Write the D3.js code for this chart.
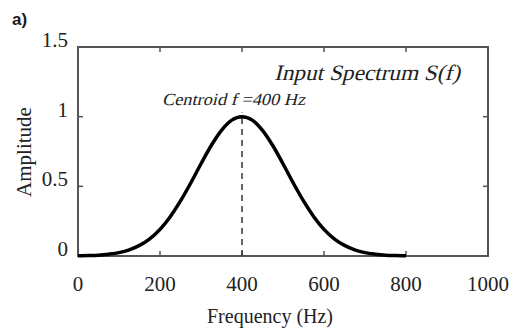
<!DOCTYPE html>
<html>
<head>
<meta charset="utf-8">
<script src="https://cdn.jsdelivr.net/npm/d3@7"></script>
<style>
  html, body { margin: 0; padding: 0; background: #fff; }
  svg { display: block; }
</style>
</head>
<body>
<svg id="chart" width="516" height="330"></svg>
<script>
// Data
const frequencies = [0, 25, 50, 75, 100, 125, 150, 175, 200, 225, 250, 275, 300, 325, 350, 375, 400,
                     425, 450, 475, 500, 525, 550, 575, 600, 625, 650, 675, 700, 725, 750, 775, 800];
const amplitudes  = [0.001, 0.003, 0.006, 0.013, 0.024, 0.044, 0.076, 0.123, 0.191, 0.282, 0.395, 0.524, 0.662, 0.793, 0.902, 0.975, 1.0,
                     0.975, 0.902, 0.793, 0.662, 0.524, 0.395, 0.282, 0.191, 0.123, 0.076, 0.044, 0.024, 0.013, 0.006, 0.003, 0.001];
const xTicks = [0, 200, 400, 600, 800, 1000];
const yTicks = [0, 0.5, 1, 1.5];
const yTickLabels = ["0", "0.5", "1", "1.5"];
const centroid = 400;
const panelLabel = "a)";
const xTitle = "Frequency (Hz)";
const yTitle = "Amplitude";
const seriesLabel = "Input Spectrum S(f)";
const centroidLabel = "Centroid f =400 Hz";

const svg = d3.select("#chart");
const L = 78, R = 488, T = 47, B = 256;
const x = d3.scaleLinear().domain([0, 1000]).range([L, R]);
const y = d3.scaleLinear().domain([0, 1.5]).range([B, T]);

const frameColor = "#555";
const textColor = "#222";
const serif = "'Liberation Serif', 'Times New Roman', serif";

// Frame
svg.append("rect")
  .attr("x", L).attr("y", T).attr("width", R - L).attr("height", B - T)
  .attr("fill", "none").attr("stroke", frameColor).attr("stroke-width", 2);

// Ticks (inside, all four sides)
const tickLen = 5;
const innerX = xTicks.filter(d => d > 0 && d < 1000);
const innerY = yTicks.filter(d => d > 0 && d < 1.5);
const tk = svg.append("g").attr("stroke", frameColor).attr("stroke-width", 1.5);
innerX.forEach(d => {
  tk.append("line").attr("x1", x(d)).attr("x2", x(d)).attr("y1", B).attr("y2", B - tickLen);
  tk.append("line").attr("x1", x(d)).attr("x2", x(d)).attr("y1", T).attr("y2", T + tickLen);
});
innerY.forEach(d => {
  tk.append("line").attr("x1", L).attr("x2", L + tickLen).attr("y1", y(d)).attr("y2", y(d));
  tk.append("line").attr("x1", R).attr("x2", R - tickLen).attr("y1", y(d)).attr("y2", y(d));
});

// Tick labels
svg.append("g").selectAll("text").data(xTicks).join("text")
  .attr("x", d => x(d)).attr("y", 291)
  .attr("text-anchor", "middle")
  .attr("font-family", serif).attr("font-size", 21).attr("fill", textColor)
  .text(d => d);
svg.append("g").selectAll("text").data(yTicks).join("text")
  .attr("x", L - 10).attr("y", d => y(d))
  .attr("text-anchor", "end")
  .attr("font-family", serif).attr("font-size", 21).attr("fill", textColor)
  .text((d, i) => yTickLabels[i]);

// Axis titles
svg.append("text")
  .attr("x", 270).attr("y", 323)
  .attr("text-anchor", "middle")
  .attr("font-family", serif).attr("font-size", 20).attr("fill", textColor)
  .text(xTitle);
svg.append("text")
  .attr("transform", "translate(31,152) rotate(-90)")
  .attr("text-anchor", "middle")
  .attr("font-family", serif).attr("font-size", 21).attr("fill", textColor)
  .text(yTitle);

// Centroid dashed line
svg.append("line")
  .attr("x1", x(centroid)).attr("x2", x(centroid))
  .attr("y1", B).attr("y2", y(1.03))
  .attr("stroke", "#333").attr("stroke-width", 1.5)
  .attr("stroke-dasharray", "6,5");

// Curve
const line = d3.line()
  .x((d, i) => x(frequencies[i]))
  .y(d => y(d))
  .curve(d3.curveMonotoneX);
svg.append("path")
  .datum(amplitudes)
  .attr("d", line)
  .attr("fill", "none")
  .attr("stroke", "#000")
  .attr("stroke-width", 3.5)
  .attr("stroke-linejoin", "round");

// Annotations (serif, slanted)
svg.append("text")
  .attr("transform", "translate(274,80) skewX(-14)")
  .attr("font-family", serif)
  .attr("font-size", 22).attr("fill", textColor)
  .attr("textLength", 186).attr("lengthAdjust", "spacingAndGlyphs")
  .text(seriesLabel);
svg.append("text")
  .attr("transform", "translate(162,105) skewX(-14)")
  .attr("font-family", serif)
  .attr("font-size", 17).attr("fill", textColor)
  .attr("textLength", 143).attr("lengthAdjust", "spacingAndGlyphs")
  .text(centroidLabel);

// Panel label
svg.append("text")
  .attr("x", 12).attr("y", 25)
  .attr("font-family", "'Liberation Sans', Arial, sans-serif").attr("font-weight", "bold")
  .attr("font-size", 17).attr("fill", "#1a1a1a")
  .text(panelLabel);
</script>
</body>
</html>
